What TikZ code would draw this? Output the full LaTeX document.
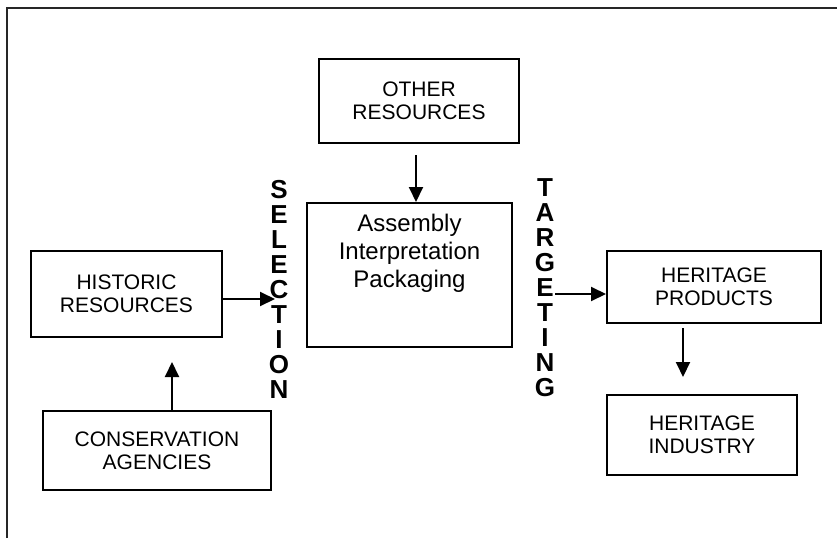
\documentclass[tikz,border=0pt]{standalone}
\usepackage{fontspec}
\setmainfont{Liberation Sans}
\usetikzlibrary{positioning,arrows.meta}
\newcommand\boxfont{\fontsize{21}{23}\selectfont}
\newcommand\asmfont{\fontsize{24}{28}\selectfont}
\newcommand\wordfont{\fontsize{26}{25}\selectfont\bfseries}
\tikzset{
	box/.style={draw, rectangle, line width=2pt, align=center, font=\boxfont},
	arr/.style={line width=2pt, -{Triangle[length=15pt,width=14pt]}},
	vword/.style={align=center, inner sep=0pt, font=\wordfont},
	outline/.style={line width=1.8pt, black!85}
}
\begin{document}
\begin{tikzpicture}[x=1pt, y=-1pt]
				\useasboundingbox (0,0) rectangle (837,538);
				\draw[outline] (7,538) -- (7,8) -- (837,8);
				\node[box, minimum width=200pt, minimum height=84pt] (other)at(419, 101) {OTHER\\RESOURCES};
				\node[box, minimum width=205pt, minimum height=144pt] (asm)at(409.5, 275) {};
				\node[align=center, font=\asmfont, below=9pt of asm.north] (asmtext) {Assembly\\Interpretation\\Packaging};
				\node[box, minimum width=191pt, minimum height=86pt] (hist)at(126.5, 294) {HISTORIC\\RESOURCES};
				\node[box, minimum width=228pt, minimum height=79pt] (cons)at(157, 450.5) {CONSERVATION\\AGENCIES};
				\node[box, minimum width=214pt, minimum height=72pt] (prod)at(714, 287) {HERITAGE\\PRODUCTS};
				\node[box, minimum width=190pt, minimum height=80pt] (ind)at(702, 435) {HERITAGE\\INDUSTRY};
				\node[vword, anchor=north] (sel)at(279, 180) {S\\E\\L\\E\\C\\T\\I\\O\\N};
				\node[vword, anchor=north] (targ)at(545, 178) {T\\A\\R\\G\\E\\T\\I\\N\\G};
				\coordinate (oa)at(416, 155);
				\coordinate (hs)at(275, 299);
				\coordinate (ch)at(172, 362);
				\coordinate (tp)at(555, 294);
				\coordinate (pi)at(683, 377);
				\draw[arr] (oa) -- (asm.north -| oa);
				\draw[arr] (hist.east |- hs) -- (hs);
				\draw[arr] (cons.north -| ch) -- (ch);
				\draw[arr] (tp) -- (prod.west |- tp);
				\draw[arr, shorten <=4pt] (prod.south -| pi) -- (pi);
			\end{tikzpicture}
\end{document}
